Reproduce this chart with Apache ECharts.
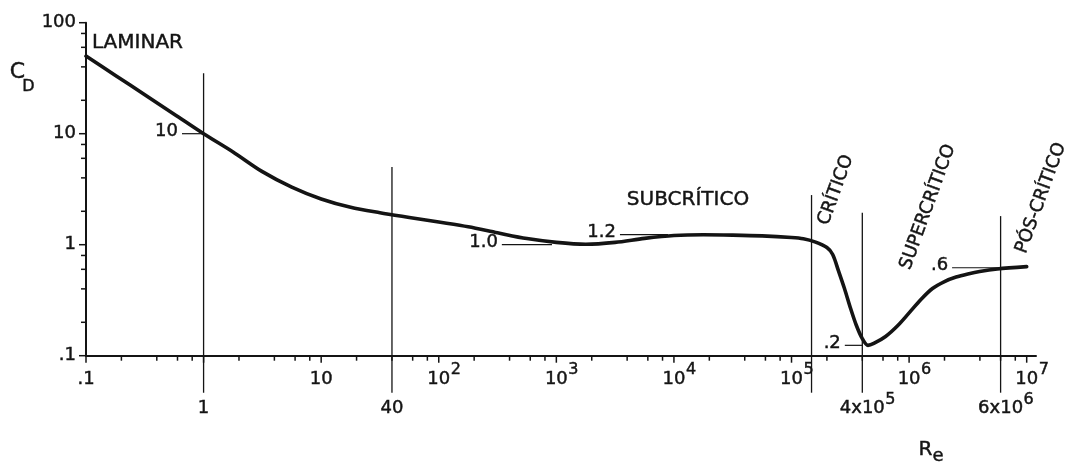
<!DOCTYPE html>
<html><head><meta charset="utf-8">
<script src="https://cdn.jsdelivr.net/npm/echarts@6/dist/echarts.min.js"></script>
<style>html,body{margin:0;padding:0;background:#fff}#c{width:1069px;height:466px}</style>
</head><body><div id="c"></div>
<script>
// ---- data ----
const reynolds = [
  0.1, 0.178, 0.316, 0.562, 1, 1.78, 3.16, 5.62, 10, 17.8, 31.6, 56.2, 100, 178, 316, 562,
  1000, 1780, 3160, 5620, 1e4, 1.78e4, 3.16e4, 5.62e4, 1e5, 1.26e5, 1.58e5, 2.0e5, 2.24e5, 2.51e5,
  2.82e5, 3.16e5, 3.55e5, 3.98e5, 4.47e5, 5.01e5, 6.31e5, 7.94e5, 1e6, 1.26e6, 1.58e6, 2.0e6,
  2.51e6, 3.16e6, 3.98e6, 5.62e6, 1e7];
const dragCoef = [
  50, 33.5, 22.4, 15.0, 10, 6.85, 4.55, 3.3, 2.58, 2.17, 1.94, 1.76, 1.60, 1.45, 1.28, 1.135,
  1.05, 1.01, 1.05, 1.14, 1.21, 1.23, 1.22, 1.20, 1.16, 1.13, 1.06, 0.944, 0.816, 0.58,
  0.403, 0.272, 0.189, 0.144, 0.124, 0.129, 0.149, 0.185, 0.243, 0.321, 0.403, 0.466,
  0.511, 0.545, 0.574, 0.604, 0.634];

const xTickLabelValues = [0.1, 10, 1e2, 1e3, 1e4, 1e5, 1e6, 1e7];
const xTickLabelTexts = ['.1', '10', '10^2', '10^3', '10^4', '10^5', '10^6', '10^7'];
const xMarkLabelValues = [1, 40, 4e5, 6e6];
const xMarkLabelTexts = ['1', '40', '4x10^5', '6x10^6'];
const yTickLabelValues = [0.1, 1, 10, 100];
const yTickLabelTexts = ['.1', '1', '10', '100'];

// vertical regime lines: Reynolds number and C_D where each line starts
const markLineRe = [1, 40, 1.48e5, 4e5, 6e6];
const markLineTopCd = [35, 5.0, 2.8, 1.94, 1.81];

// value call-outs: text, C_D level, Re range of the leader line
const calloutTexts = ['10', '1.0', '1.2', '.2', '.6'];
const calloutCd = [10, 1.0, 1.23, 0.124, 0.62];
const calloutFromRe = [0.655, 344, 3475, 2.84e5, 2.32e6];
const calloutToRe = [1, 918, 8900, 4e5, 6.3e6];

const X_MIN = 0.1, X_MAX = 1.2e7, Y_MIN = 0.1, Y_MAX = 100;
const INK = '#141414';
const FAM = "'DejaVu Sans', sans-serif";
const TXT = { fill: INK, stroke: INK, lineWidth: 0.45 };

// minor ticks at 2,4,6,8 of each decade
const xMajor = [0.1, 1, 10, 1e2, 1e3, 1e4, 1e5, 1e6, 1e7];
const xMinor = [];
xMajor.slice(0, -1).forEach(d => [2, 4, 6, 8].forEach(m => xMinor.push(d * m)));
const yMajor = [0.1, 1, 10, 100];
const yMinor = [];
yMajor.slice(0, -1).forEach(d => [2, 4, 6, 8].forEach(m => yMinor.push(d * m)));

const mctx = document.createElement('canvas').getContext('2d');
function textW(t, size) { mctx.font = size + 'px ' + FAM; return mctx.measureText(t).width; }
function st(o) { return Object.assign({}, TXT, o); }

function supText(x, y, txt, size, supSize, rise) {
  const parts = txt.split('^');
  const out = [{ type: 'text', x: x, y: y, style: st({ text: parts[0], font: size + 'px ' + FAM, align: 'center', verticalAlign: 'middle' }) }];
  if (parts[1]) {
    const w = textW(parts[0], size);
    out.push({ type: 'text', x: x + w / 2 + 0.5, y: y - rise, style: st({ text: parts[1], font: supSize + 'px ' + FAM, align: 'left', verticalAlign: 'middle' }) });
  }
  return out;
}

function tickSeries(axis, values, len) {
  return {
    type: 'custom', silent: true, clip: false, z: 5,
    data: values.map(v => axis === 'x' ? [v, Y_MIN] : [X_MIN, v]),
    renderItem(params, api) {
      const p = api.coord([api.value(0), api.value(1)]);
      const shape = axis === 'x'
        ? { x1: p[0], y1: p[1], x2: p[0], y2: p[1] + len }
        : { x1: p[0], y1: p[1], x2: p[0] - len, y2: p[1] };
      return { type: 'line', shape, style: { stroke: INK, lineWidth: 1.5 } };
    }
  };
}

const chart = echarts.init(document.getElementById('c'), null, { renderer: 'canvas' });
chart.setOption({
  backgroundColor: '#ffffff',
  animation: false,
  grid: { left: 86, right: 33, top: 22.7, bottom: 110.3 },
  xAxis: {
    type: 'log', logBase: 10, min: X_MIN, max: X_MAX,
    axisLine: { show: true, onZero: false, lineStyle: { color: INK, width: 2 } },
    axisTick: { show: false }, axisLabel: { show: false }, splitLine: { show: false }
  },
  yAxis: {
    type: 'log', logBase: 10, min: Y_MIN, max: Y_MAX,
    axisLine: { show: true, onZero: false, lineStyle: { color: INK, width: 2 } },
    axisTick: { show: false }, axisLabel: { show: false }, splitLine: { show: false }
  },
  series: [
    {
      name: 'C_D', type: 'line', data: reynolds.map((r, i) => [r, dragCoef[i]]),
      showSymbol: false, smooth: 0.3, z: 10,
      lineStyle: { color: INK, width: 3.6, cap: 'round', join: 'round' }
    },
    tickSeries('x', xMajor, 7),
    tickSeries('x', xMinor, 5),
    tickSeries('y', yMajor, 7),
    tickSeries('y', yMinor, 5),
    { // upper x labels
      type: 'custom', silent: true, clip: false, z: 5,
      data: xTickLabelValues.map(v => [v, Y_MIN]),
      renderItem(params, api) {
        const p = api.coord([api.value(0), api.value(1)]);
        return { type: 'group', children: supText(p[0], p[1] + 24, xTickLabelTexts[params.dataIndex], 18, 16, 10) };
      }
    },
    { // lower x labels at the regime lines
      type: 'custom', silent: true, clip: false, z: 5,
      data: xMarkLabelValues.map(v => [v, Y_MIN]),
      renderItem(params, api) {
        const p = api.coord([api.value(0), api.value(1)]);
        return { type: 'group', children: supText(p[0], p[1] + 53, xMarkLabelTexts[params.dataIndex], 18, 16, 9) };
      }
    },
    { // y labels
      type: 'custom', silent: true, clip: false, z: 5,
      data: yTickLabelValues.map(v => [X_MIN, v]),
      renderItem(params, api) {
        const p = api.coord([api.value(0), api.value(1)]);
        return { type: 'text', x: p[0] - 10, y: p[1], style: st({ text: yTickLabelTexts[params.dataIndex], font: '18px ' + FAM, align: 'right', verticalAlign: 'middle' }) };
      }
    },
    { // vertical regime lines
      type: 'custom', silent: true, clip: false, z: 4,
      data: markLineRe.map((r, i) => [r, markLineTopCd[i]]),
      renderItem(params, api) {
        const t = api.coord([api.value(0), api.value(1)]);
        const b = api.coord([api.value(0), Y_MIN]);
        return { type: 'line', shape: { x1: t[0], y1: t[1], x2: b[0], y2: b[1] + 37 }, style: { stroke: INK, lineWidth: 1.3 } };
      }
    },
    { // call-outs
      type: 'custom', silent: true, clip: false, z: 4,
      encode: { x: [0, 2], y: 1 },
      data: calloutTexts.map((t, i) => [calloutFromRe[i], calloutCd[i], calloutToRe[i]]),
      renderItem(params, api) {
        const a = api.coord([api.value(0), api.value(1)]);
        const b = api.coord([api.value(2), api.value(1)]);
        return {
          type: 'group', children: [
            { type: 'line', shape: { x1: a[0], y1: a[1], x2: b[0], y2: b[1] }, style: { stroke: INK, lineWidth: 1.2 } },
            { type: 'text', x: a[0] - 4, y: a[1] - 2, style: st({ text: calloutTexts[params.dataIndex], font: '18px ' + FAM, align: 'right', verticalAlign: 'middle' }) }
          ]
        };
      }
    }
  ],
  graphic: [
    { type: 'text', x: 17.5, y: 72, style: st({ text: 'C', font: '22px ' + FAM, align: 'center', verticalAlign: 'middle' }) },
    { type: 'text', x: 28.5, y: 86.5, style: st({ text: 'D', font: '16px ' + FAM, align: 'center', verticalAlign: 'middle' }) },
    { type: 'text', x: 925.5, y: 449.5, style: st({ text: 'R', font: '20px ' + FAM, align: 'center', verticalAlign: 'middle' }) },
    { type: 'text', x: 938, y: 456, style: st({ text: 'e', font: '18px ' + FAM, align: 'center', verticalAlign: 'middle' }) },
    { type: 'text', x: 92, y: 42.5, style: st({ text: 'LAMINAR', font: '20px ' + FAM, align: 'left', verticalAlign: 'middle' }) },
    { type: 'text', x: 688, y: 200, style: st({ text: 'SUBCRÍTICO', font: '20px ' + FAM, align: 'center', verticalAlign: 'middle' }) },
    { type: 'text', x: 836, y: 190, rotation: 70 * Math.PI / 180, style: st({ text: 'CRÍTICO', font: '18px ' + FAM, align: 'center', verticalAlign: 'middle' }) },
    { type: 'text', x: 928, y: 207, rotation: 70 * Math.PI / 180, style: st({ text: 'SUPERCRÍTICO', font: '18px ' + FAM, align: 'center', verticalAlign: 'middle' }) },
    { type: 'text', x: 1041, y: 198, rotation: 70 * Math.PI / 180, style: st({ text: 'PÓS-CRÍTICO', font: '18px ' + FAM, align: 'center', verticalAlign: 'middle' }) }
  ]
});
</script>
</body></html>
